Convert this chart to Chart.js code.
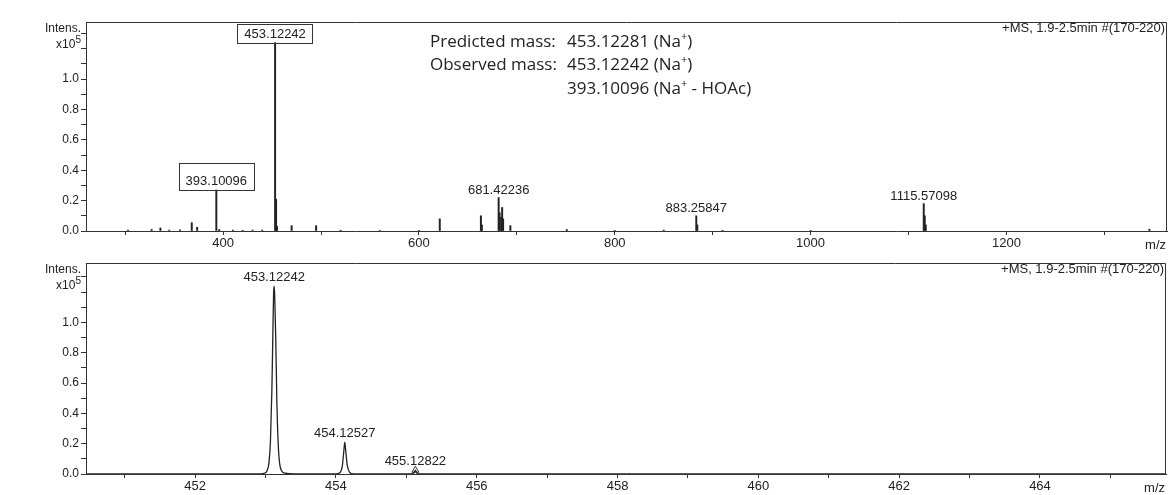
<!DOCTYPE html>
<html><head><meta charset="utf-8">
<script src="https://cdn.jsdelivr.net/npm/chart.js@4.4.1/dist/chart.umd.min.js"></script>
<style>
html,body{margin:0;padding:0;background:#fff;overflow:hidden;}
#wrap{position:relative;width:1171px;height:495px;}
.box{position:absolute;left:0;width:1171px;}
#b1{top:0;height:252px;}
#b2{top:252px;height:243px;}
</style></head><body>
<div id="wrap">
<div class="box" id="b1"><canvas id="cTop"></canvas></div>
<div class="box" id="b2"><canvas id="cBot"></canvas></div>
</div>
<script>
// ---------- DATA (intensity in units of 10^5) ----------
// Top panel: full-range spectrum (stick peaks)
const topMz  = [303, 327, 336, 345, 356, 368, 373.5, 393.10096, 396, 410, 420, 430, 440,
                453.12242, 454.12527, 455.12822, 470, 495, 520, 560, 600, 621.3, 663.3, 664.3,
                681.42236, 682.4, 684, 685, 686, 693.4, 751, 800, 850, 883.25847, 884.3, 910,
                1000, 1115.57098, 1116.6, 1117.6, 1346];
const topInt = [0.006, 0.01, 0.02, 0.006, 0.008, 0.055, 0.025, 0.27, 0.01, 0.006, 0.005, 0.006, 0.006,
                1.24, 0.21, 0.03, 0.035, 0.035, 0.005, 0.004, 0.004, 0.08, 0.10, 0.04,
                0.22, 0.12, 0.09, 0.155, 0.08, 0.035, 0.01, 0.004, 0.006, 0.10, 0.04, 0.005,
                0.004, 0.18, 0.10, 0.04, 0.012];
const topLabels = ['393.10096', '453.12242', '681.42236', '883.25847', '1115.57098'];
const topLabelMz = [393.10096, 453.12242, 681.42236, 883.25847, 1115.57098];

// Bottom panel: zoomed isotope pattern (profile)
const botMz  = [450.45, 452.90, 452.98, 453.02, 453.05, 453.07, 453.09, 453.105, 453.115, 453.12242,
                453.13, 453.145, 453.16, 453.18, 453.20, 453.23, 453.28, 453.40,
                454.00, 454.06, 454.09, 454.11, 454.12527, 454.14, 454.16, 454.19, 454.25,
                455.08, 455.11, 455.12822, 455.145, 455.18, 465.79];
const botInt = [0, 0, 0.005, 0.02, 0.08, 0.22, 0.55, 0.95, 1.20, 1.24,
                1.18, 0.90, 0.50, 0.20, 0.07, 0.02, 0.005, 0,
                0, 0.01, 0.05, 0.14, 0.21, 0.15, 0.06, 0.015, 0,
                0, 0.01, 0.025, 0.01, 0, 0];
const botLabels = ['453.12242', '454.12527', '455.12822'];
const botLabelMz = [453.12242, 454.12527, 455.12822];
const markerMz = [455.12822];

// Axis ranges and tick values
const topXRange = [260, 1364];
const botXRange = [450.45, 465.79];
const topYMax = 1.376;
const botYMax = 1.392;
const topXTicks = [300, 400, 500, 600, 700, 800, 900, 1000, 1100, 1200, 1300];
const topXLabeled = [400, 600, 800, 1000, 1200];
const botXTicks = [451, 452, 453, 454, 455, 456, 457, 458, 459, 460, 461, 462, 463, 464, 465];
const botXLabeled = [452, 454, 456, 458, 460, 462, 464];
const yTicks = [0, 0.1, 0.2, 0.3, 0.4, 0.5, 0.6, 0.7, 0.8, 0.9, 1.0, 1.1, 1.2, 1.3];
const yLabeled = ['0.0', '0.2', '0.4', '0.6', '0.8', '1.0'];
const scanInfo = '+MS, 1.9-2.5min #(170-220)';
const massLines = [
  {head: 'Predicted mass:', val: '453.12281', ion: 'Na', sup: '+', tail: ')'},
  {head: 'Observed mass:',  val: '453.12242', ion: 'Na', sup: '+', tail: ')'},
  {head: '',                val: '393.10096', ion: 'Na', sup: '+', tail: ' - HOAc)'}
];

// ---------- HELPERS ----------
const INK = '#222';
const FONT = '"Liberation Sans", Arial, sans-serif';
function intensityAt(mzArr, intArr, m) {
  let best = 0, d = Infinity;
  mzArr.forEach((v, i) => { if (Math.abs(v - m) < d) { d = Math.abs(v - m); best = intArr[i]; } });
  return best;
}
function frame(chart) {
  const ctx = chart.ctx, a = chart.chartArea;
  ctx.save();
  ctx.strokeStyle = '#333'; ctx.lineWidth = 1;
  ctx.beginPath();
  ctx.moveTo(Math.round(a.left) + 0.5, Math.round(a.bottom) + 0.5);
  ctx.lineTo(Math.round(a.left) + 0.5, Math.round(a.top) + 0.5);
  ctx.lineTo(Math.round(a.right) - 0.5, Math.round(a.top) + 0.5);
  ctx.lineTo(Math.round(a.right) - 0.5, Math.round(a.bottom) + 0.5);
  ctx.stroke();
  ctx.restore();
}
function axisTexts(chart) {
  const ctx = chart.ctx, a = chart.chartArea;
  ctx.save();
  ctx.fillStyle = INK;
  ctx.textBaseline = 'middle';
  ctx.textAlign = 'right';
  ctx.font = '12px ' + FONT;
  ctx.fillText('Intens.', a.left - 5, a.top + 7);
  ctx.font = '10px ' + FONT;
  const w5 = ctx.measureText('5').width;
  ctx.fillText('5', a.left - 5, a.top + 18);
  ctx.font = '12px ' + FONT;
  ctx.fillText('x10', a.left - 5 - w5, a.top + 23);
  ctx.font = '13px ' + FONT;
  ctx.fillText(scanInfo, a.right - 2, a.top + 6);
  ctx.fillText('m/z', a.right - 1, a.bottom + 14);
  ctx.restore();
}

const topPlugin = {
  id: 'topDeco',
  afterDraw(chart) {
    frame(chart);
    axisTexts(chart);
    const ctx = chart.ctx, xs = chart.scales.x, ys = chart.scales.y;
    ctx.save();
    ctx.font = '13px ' + FONT;
    ctx.fillStyle = INK; ctx.strokeStyle = '#333'; ctx.lineWidth = 1;
    ctx.textAlign = 'center'; ctx.textBaseline = 'middle';
    const boxed = {'393.10096': 27, '453.12242': 19};
    topLabelMz.forEach((m, i) => {
      const px = xs.getPixelForValue(m);
      const py = ys.getPixelForValue(intensityAt(topMz, topInt, m));
      const t = topLabels[i];
      const w = ctx.measureText(t).width;
      if (boxed[t]) {
        const h = boxed[t];
        ctx.strokeRect(Math.round(px - w / 2 - 7) + 0.5, Math.round(py - h) + 0.5, Math.round(w + 14), h);
        ctx.fillText(t, px, py - 8.5);
      } else {
        ctx.fillText(t, px, py - 7);
      }
    });
    const big = '17px "Open Sans", "Noto Sans", sans-serif';
    const small = '11px "Open Sans", "Noto Sans", sans-serif';
    ctx.textAlign = 'left';
    const ys0 = [42, 65, 89];
    massLines.forEach((l, i) => {
      const y = ys0[i];
      ctx.font = big;
      if (l.head) ctx.fillText(l.head, 430, y);
      let x = 567;
      const s1 = l.val + ' (' + l.ion;
      ctx.fillText(s1, x, y); x += ctx.measureText(s1).width;
      ctx.font = small;
      ctx.fillText(l.sup, x, y - 5); x += ctx.measureText(l.sup).width;
      ctx.font = big;
      ctx.fillText(l.tail, x, y);
    });
    ctx.restore();
  }
};

const botPlugin = {
  id: 'botDeco',
  afterDraw(chart) {
    frame(chart);
    axisTexts(chart);
    const ctx = chart.ctx, xs = chart.scales.x, ys = chart.scales.y;
    ctx.save();
    ctx.font = '13px ' + FONT;
    ctx.fillStyle = INK;
    ctx.textAlign = 'center'; ctx.textBaseline = 'middle';
    botLabelMz.forEach((m, i) => {
      const px = xs.getPixelForValue(m);
      const py = ys.getPixelForValue(intensityAt(botMz, botInt, m));
      ctx.fillText(botLabels[i], px, py - 9);
    });
    ctx.restore();
  }
};

function xScale(range, tickVals, labeled) {
  return {
    type: 'linear', min: range[0], max: range[1], offset: false,
    afterFit(s) { s.height = 21; },
    afterBuildTicks(s) { s.ticks = tickVals.map(v => ({value: v})); },
    grid: {display: true, offset: false, drawOnChartArea: false, drawTicks: true, tickLength: 4, color: '#333'},
    border: {display: true, color: '#333', width: 1},
    ticks: {autoSkip: false, maxRotation: 0, minRotation: 0,
            padding: 1, color: INK, font: {family: FONT, size: 13},
            callback: v => labeled.includes(Math.round(v)) ? String(Math.round(v)) : ''}
  };
}
function yScale(max) {
  return {
    type: 'linear', min: 0, max: max,
    afterFit(s) { s.width = 86; },
    afterBuildTicks(s) { s.ticks = yTicks.map(v => ({value: v})); },
    grid: {display: true, drawOnChartArea: false, drawTicks: true, tickLength: 5, color: '#333'},
    border: {display: true, color: '#333', width: 1},
    ticks: {autoSkip: false, padding: 2, color: INK,
            font: {family: FONT, size: 12},
            callback: v => { const t = v.toFixed(1); return yLabeled.includes(t) ? t : ''; }}
  };
}

Chart.defaults.animation = false;
Chart.defaults.devicePixelRatio = 1;

new Chart(document.getElementById('cTop'), {
  type: 'bar',
  data: {datasets: [{
    data: topMz.map((m, i) => ({x: m, y: topInt[i]})),
    backgroundColor: INK, borderWidth: 0, barThickness: 1.3, grouped: false
  }]},
  options: {
    responsive: true, maintainAspectRatio: false,
    layout: {padding: {top: 22, right: 4, left: 0, bottom: 0}},
    plugins: {legend: {display: false}, tooltip: {enabled: false}},
    scales: {
      x: xScale(topXRange, topXTicks, topXLabeled),
      y: yScale(topYMax)
    }
  },
  plugins: [topPlugin]
});

new Chart(document.getElementById('cBot'), {
  type: 'line',
  data: {datasets: [
    {data: botMz.map((m, i) => ({x: m, y: botInt[i]})), borderColor: INK, borderWidth: 1.3,
     pointRadius: 0, cubicInterpolationMode: 'monotone', fill: false},
    {type: 'scatter', data: markerMz.map(m => ({x: m, y: intensityAt(botMz, botInt, m)})),
     pointStyle: 'triangle', pointRadius: 4, borderColor: '#333', borderWidth: 1,
     backgroundColor: 'rgba(255,255,255,0)'}
  ]},
  options: {
    responsive: true, maintainAspectRatio: false,
    layout: {padding: {top: 11, right: 4, left: 0, bottom: 0}},
    plugins: {legend: {display: false}, tooltip: {enabled: false}},
    scales: {
      x: xScale(botXRange, botXTicks, botXLabeled),
      y: yScale(botYMax)
    }
  },
  plugins: [botPlugin]
});
</script>
</body></html>
